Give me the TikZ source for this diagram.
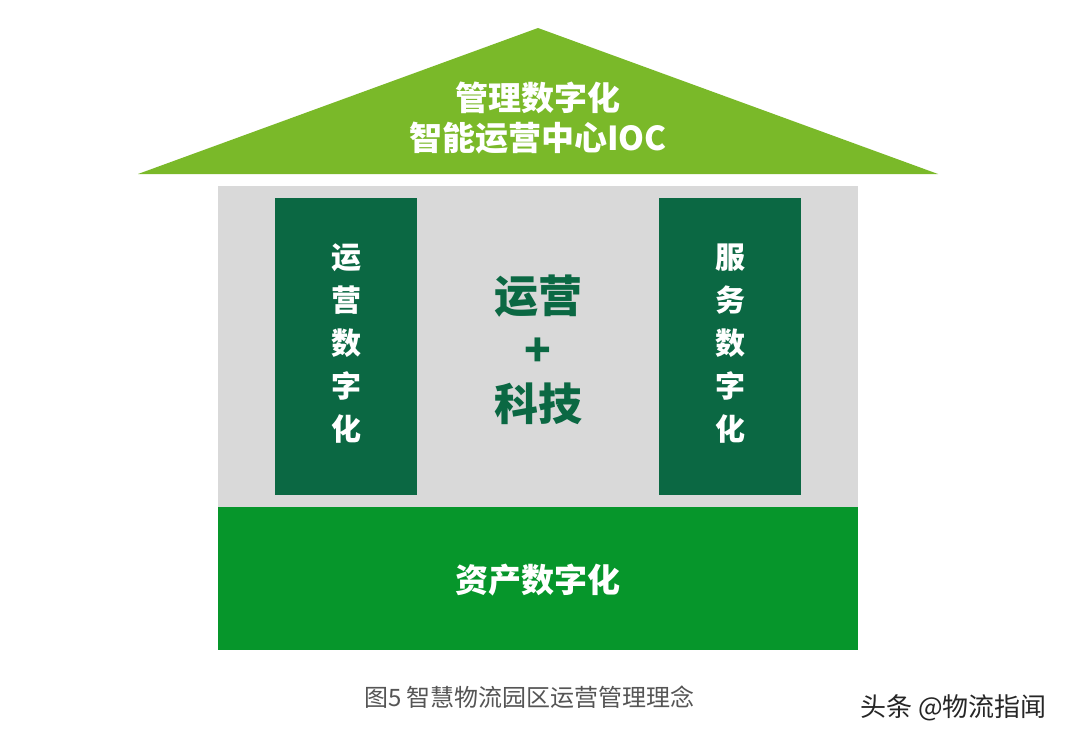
\documentclass[tikz,border=0pt]{standalone}
\usepackage{fontspec}
\setmainfont{Noto Sans CJK SC}
\newfontfamily\cjk{Noto Sans CJK SC}
\usetikzlibrary{positioning}
\definecolor{roofgreen}{HTML}{7AB929}
\definecolor{wallgray}{HTML}{D9D9D9}
\definecolor{pillar}{HTML}{0B6843}
\definecolor{basegreen}{HTML}{06962B}
\definecolor{captiongray}{HTML}{555555}
\tikzset{
  pillarbox/.style={fill=pillar, draw=none},
  whitetext/.style={text=white, font=\cjk\bfseries\fontsize{33}{40}\selectfont, align=center, inner sep=0pt},
  vtext/.style={text=white, font=\cjk\bfseries\fontsize{30}{43}\selectfont, align=center, inner sep=0pt},
  centertext/.style={text=pillar, font=\cjk\bfseries\fontsize{44}{54}\selectfont, align=center, inner sep=0pt},
  captiontext/.style={text=captiongray, font=\cjk\fontsize{24}{28}\selectfont, inner sep=0pt},
}
\begin{document}
\begin{tikzpicture}[x=1pt,y=-1pt]
\useasboundingbox[fill=white] (0,0) rectangle (1080,744);
% roof
\fill[roofgreen] (138,174) -- (538,28) -- (938,174) -- cycle;
% wall
\fill[wallgray] (218,186) rectangle (858,508);
% pillars
\fill[pillarbox] (275,198) rectangle (417,495);
\fill[pillarbox] (659,198) rectangle (801,495);
% base
\fill[basegreen] (218,507) rectangle (858,650);
% texts
\node[whitetext] (roof) at (538,118) {管理数字化\\智能运营中心IOC};
\node[vtext] (left) at (346,344) {运\\营\\数\\字\\化};
\node[vtext] (right) at (730,344) {服\\务\\数\\字\\化};
\node[centertext] (center) at (538,350) {运营\\+\\科技};
\node[whitetext] (base) at (538,580) {资产数字化};
\node[captiontext, anchor=west] (caption) at (364,697) {图5 智慧物流园区运营管理理念};
\node[text=black!85, font=\cjk\fontsize{26}{30}\selectfont, inner sep=0pt, anchor=west] (mark) at (860,708) {头条 @物流指闻};
\end{tikzpicture}
\end{document}
